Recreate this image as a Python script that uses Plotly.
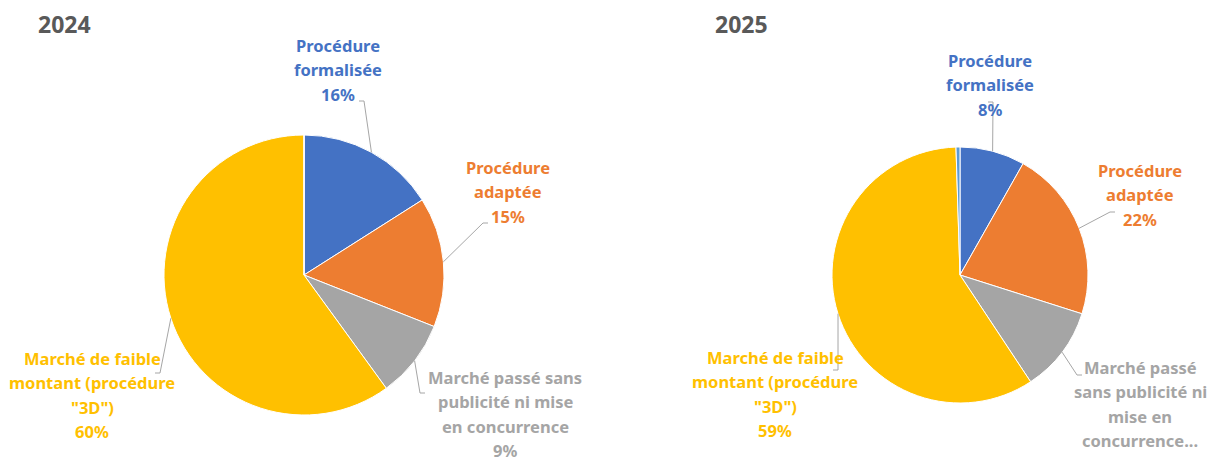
import math
import plotly.graph_objects as go

W, H = 1216, 463
OFF = 8  # page margin of the browser body

categories = [
    "Procédure formalisée",
    "Procédure adaptée",
    "Marché passé sans publicité ni mise en concurrence",
    'Marché de faible montant (procédure "3D")',
    "Autre",
]
values_2024 = [16, 15, 9, 60, 0]
values_2025 = [8.2, 21.7, 10.8, 58.8, 0.5]
colors = ["#4472C4", "#ED7D31", "#A5A5A5", "#FFC000", "#5B9BD5"]

# label text, as wrapped in the original (None = no label)
lines_2024 = [
    ["Procédure", "formalisée", "16%"],
    ["Procédure", "adaptée", "15%"],
    ["Marché passé sans", "publicité ni mise", "en concurrence", "9%"],
    ["Marché de faible", "montant (procédure", '"3D")', "60%"],
    None,
]
lines_2025 = [
    ["Procédure", "formalisée", "8%"],
    ["Procédure", "adaptée", "22%"],
    ["Marché passé", "sans publicité ni", "mise en", "concurrence..."],
    ["Marché de faible", "montant (procédure", '"3D")', "59%"],
    None,
]

# layout (screen pixels)
pies = [
    dict(year="2024", vals=values_2024, lines=lines_2024, cx=304, cy=275, r=140,
         title_x=64, top=[(338, 45), (508, 167), (505, 377), (92, 358)],
         line_end=[(364, 101), (483, 223), (420, 393), (160, 373)]),
    dict(year="2025", vals=values_2025, lines=lines_2025, cx=960, cy=275, r=128,
         title_x=742, top=[(990, 60), (1140, 170), (1140, 367), (775, 357)],
         line_end=[(993, 102), (1110, 212), (1077, 375), (838, 370)]),
]
LINE_H = 24.6
TICK = 5


def px(x):
    return (x - OFF) / W


def py(y):
    return 1 - (y - OFF) / H


fig = go.Figure()
annotations = []
shapes = []

for p in pies:
    cx, cy, r = p["cx"], p["cy"], p["r"]
    fig.add_trace(go.Pie(
        labels=categories,
        values=p["vals"],
        marker=dict(colors=colors, line=dict(color="white", width=1)),
        sort=False,
        direction="clockwise",
        rotation=0,
        textinfo="none",
        showlegend=False,
        domain=dict(x=[px(cx - r), px(cx + r)], y=[py(cy + r), py(cy - r)]),
    ))

    annotations.append(dict(
        text="<b>" + p["year"] + "</b>", x=px(p["title_x"]), y=py(24),
        xref="paper", yref="paper", showarrow=False, xanchor="center", yanchor="middle",
        font=dict(family="Noto Sans", size=23, color="#595959"),
    ))

    total = sum(p["vals"])
    cum = 0
    for i, v in enumerate(p["vals"]):
        mid = (cum + v / 2) / total * 2 * math.pi
        cum += v
        if p["lines"][i] is None:
            continue
        tx, ty = p["top"][i]
        for k, t in enumerate(p["lines"][i]):
            annotations.append(dict(
                text="<b>" + t + "</b>", x=px(tx), y=py(ty + k * LINE_H),
                xref="paper", yref="paper", showarrow=False,
                xanchor="center", yanchor="middle",
                font=dict(family="Noto Sans", size=16.5, color=colors[i]),
            ))
        # leader line from slice edge to label, with a short horizontal tick
        sx = cx + r * math.sin(mid)
        sy = cy - r * math.cos(mid)
        ex, ey = p["line_end"][i]
        kx = ex + (TICK if tx > ex else -TICK)
        path = "M {} {} L {} {} L {} {}".format(
            px(sx), py(sy), px(ex), py(ey), px(kx), py(ey))
        shapes.append(dict(
            type="path", xref="paper", yref="paper", path=path,
            line=dict(color="#A6A6A6", width=1),
        ))

fig.update_layout(
    width=W, height=H,
    margin=dict(l=0, r=0, t=0, b=0),
    paper_bgcolor="white",
    annotations=annotations,
    shapes=shapes,
)

fig.write_html("out.html")
